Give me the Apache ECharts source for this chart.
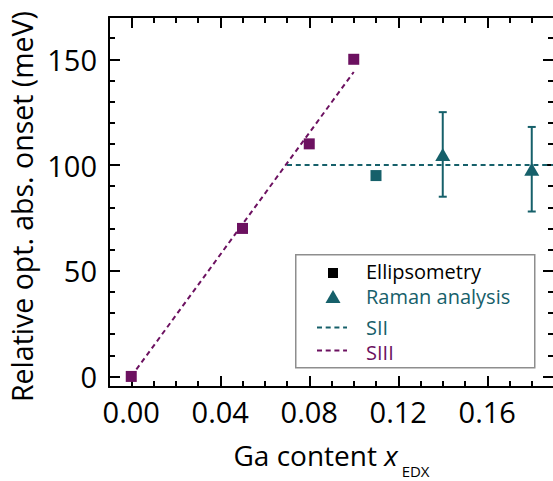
<!DOCTYPE html>
<html>
<head>
<meta charset="utf-8">
<script src="https://cdn.jsdelivr.net/npm/echarts@6/dist/echarts.min.js"></script>
<style>
  html, body { margin: 0; padding: 0; background: #fff; }
  #chart { width: 553px; height: 481px; }
</style>
</head>
<body>
<div id="chart"></div>
<script>
// Sample series SIII (ellipsometry)
const siiiGa = [0.00, 0.05, 0.08, 0.10];
const siiiOnset = [0, 70, 110, 150];
// Sample series SII (ellipsometry)
const siiGa = [0.11];
const siiOnset = [95];
// Sample series SII (Raman analysis) with symmetric uncertainty
const ramanGa = [0.14, 0.18];
const ramanOnset = [105, 98];
const ramanErr = [20, 20];
// Guide lines
const siiiFitGa = [0.00, 0.10];
const siiiFitOnset = [0, 144];
const siiFitGa = [0.07, 0.19];
const siiFitOnset = [100, 100];
// Axis ticks
const xMajorTicks = [0.00, 0.04, 0.08, 0.12, 0.16];
const xMinorTicks = [-0.01, 0.00, 0.01, 0.02, 0.03, 0.04, 0.05, 0.06, 0.07, 0.08, 0.09,
                     0.10, 0.11, 0.12, 0.13, 0.14, 0.15, 0.16, 0.17, 0.18, 0.19];
const yMajorTicks = [0, 50, 100, 150];
const yMinorTicks = [0, 10, 20, 30, 40, 50, 60, 70, 80, 90, 100, 110, 120, 130, 140, 150, 160, 170];

const PURPLE = '#6c1160';
const TEAL = '#16606a';
const FONT = '"Open Sans", "Noto Sans", sans-serif';

const X_MIN = -0.01, X_MAX = 0.19;
const Y_MIN = -5, Y_MAX = 170;

function xAxisDef(position, ticks, len, withLabels) {
  return {
    type: 'value', min: X_MIN, max: X_MAX, position: position,
    axisLine: { show: withLabels !== null, onZero: false, lineStyle: { color: '#000', width: 2 } },
    axisTick: { show: true, inside: true, length: len, customValues: ticks,
                lineStyle: { color: '#000', width: 2 } },
    axisLabel: withLabels ? {
      show: true, customValues: xMajorTicks, margin: 10,
      formatter: v => v.toFixed(2),
      fontFamily: FONT, fontSize: 29, color: '#000'
    } : { show: false },
    splitLine: { show: false }
  };
}
function yAxisDef(position, ticks, len, withLabels) {
  return {
    type: 'value', min: Y_MIN, max: Y_MAX, position: position,
    axisLine: { show: withLabels !== null, onZero: false, lineStyle: { color: '#000', width: 2 } },
    axisTick: { show: true, inside: true, length: len, customValues: ticks,
                lineStyle: { color: '#000', width: 2 } },
    axisLabel: withLabels ? {
      show: true, customValues: yMajorTicks, margin: 12,
      fontFamily: FONT, fontSize: 29, color: '#000'
    } : { show: false },
    splitLine: { show: false }
  };
}

const xAxes = [
  xAxisDef('bottom', xMajorTicks, 11, true),
  xAxisDef('bottom', xMinorTicks, 6, null),
  xAxisDef('top', xMajorTicks, 11, false),
  xAxisDef('top', xMinorTicks, 6, null)
];
Object.assign(xAxes[0], {
  name: '{a|Ga content }{i|x}{s|EDX}',
  nameLocation: 'middle',
  nameGap: 46,
  nameTextStyle: {
    fontFamily: FONT, color: '#000',
    rich: {
      a: { fontFamily: FONT, fontSize: 28, lineHeight: 32, color: '#000' },
      i: { fontFamily: FONT, fontSize: 28, lineHeight: 32, fontStyle: 'italic', color: '#000',
           padding: [0, 4, 0, 0] },
      s: { fontFamily: FONT, fontSize: 15, lineHeight: 15, padding: [33, 0, 0, 0], color: '#000' }
    }
  }
});

const yAxes = [
  yAxisDef('left', yMajorTicks, 11, true),
  yAxisDef('left', yMinorTicks, 6, null),
  yAxisDef('right', yMajorTicks, 11, false),
  yAxisDef('right', yMinorTicks, 6, null)
];
Object.assign(yAxes[0], {
  name: 'Relative opt. abs. onset (meV)',
  nameLocation: 'middle',
  nameGap: 69,
  nameTextStyle: { fontFamily: FONT, fontSize: 28.5, color: '#000', padding: [0, 9, 0, 0] }
});

const pairs = (xs, ys) => xs.map((x, i) => [x, ys[i]]);
const errData = ramanGa.map((x, i) => [x, ramanOnset[i] - ramanErr[i], ramanOnset[i] + ramanErr[i]]);

// Legend box drawn as graphic elements
const legendFont = '20px ' + FONT;
const legendGraphic = [
  { type: 'rect', left: 295, top: 254, shape: { width: 239, height: 113 },
    style: { fill: '#fff', stroke: '#8e8e8e', lineWidth: 1.5 }, z: 10 },
  { type: 'rect', shape: { x: 328, y: 268, width: 10, height: 10 }, style: { fill: '#000' }, z: 11 },
  { type: 'text', x: 366, y: 271.5, style: { text: 'Ellipsometry', fill: '#000', font: legendFont,
    lineHeight: 20, textVerticalAlign: 'middle' }, z: 11 },
  { type: 'polygon', shape: { points: [[333, 290], [325.5, 303], [340.5, 303]] }, style: { fill: TEAL }, z: 11 },
  { type: 'text', x: 366, y: 296.5, style: { text: 'Raman analysis', fill: TEAL, font: legendFont,
    lineHeight: 20, textVerticalAlign: 'middle' }, z: 11 },
  { type: 'line', shape: { x1: 317, y1: 327.5, x2: 347, y2: 327.5 },
    style: { stroke: TEAL, lineWidth: 2, lineDash: [5, 3.7] }, z: 11 },
  { type: 'text', x: 366, y: 327.5, style: { text: 'SII', fill: TEAL, font: legendFont,
    lineHeight: 20, textVerticalAlign: 'middle' }, z: 11 },
  { type: 'line', shape: { x1: 317, y1: 350.5, x2: 347, y2: 350.5 },
    style: { stroke: PURPLE, lineWidth: 2, lineDash: [5, 3.7] }, z: 11 },
  { type: 'text', x: 366, y: 352, style: { text: 'SIII', fill: PURPLE, font: legendFont,
    lineHeight: 20, textVerticalAlign: 'middle' }, z: 11 }
];

const chart = echarts.init(document.getElementById('chart'), null, { renderer: 'svg' });
chart.setOption({
  animation: false,
  backgroundColor: '#fff',
  grid: { left: 109, top: 17, width: 445, height: 370, outerBoundsMode: 'none' },
  xAxis: xAxes,
  yAxis: yAxes,
  graphic: legendGraphic,
  series: [
    {
      name: 'SIII guide', type: 'line', data: pairs(siiiFitGa, siiiFitOnset),
      showSymbol: false, symbol: 'none', z: 2,
      lineStyle: { color: PURPLE, width: 2, type: [5, 3.7] }
    },
    {
      name: 'SII guide', type: 'line', data: pairs(siiFitGa, siiFitOnset),
      showSymbol: false, symbol: 'none', z: 2,
      lineStyle: { color: TEAL, width: 2, type: [5, 3.8] }
    },
    {
      name: 'Raman error', type: 'custom', data: errData, z: 3,
      renderItem: function (params, api) {
        const x = api.value(0);
        const lo = api.coord([x, api.value(1)]);
        const hi = api.coord([x, api.value(2)]);
        const cap = 4;
        const st = { stroke: TEAL, lineWidth: 2 };
        return {
          type: 'group',
          children: [
            { type: 'line', shape: { x1: hi[0], y1: hi[1], x2: lo[0], y2: lo[1] }, style: st },
            { type: 'line', shape: { x1: hi[0] - cap, y1: hi[1], x2: hi[0] + cap, y2: hi[1] }, style: st },
            { type: 'line', shape: { x1: lo[0] - cap, y1: lo[1], x2: lo[0] + cap, y2: lo[1] }, style: st }
          ]
        };
      }
    },
    {
      name: 'SIII ellipsometry', type: 'scatter', data: pairs(siiiGa, siiiOnset),
      symbol: 'rect', symbolSize: 11, z: 4, itemStyle: { color: PURPLE, opacity: 1 }
    },
    {
      name: 'SII ellipsometry', type: 'scatter', data: pairs(siiGa, siiOnset),
      symbol: 'rect', symbolSize: 11, z: 4, itemStyle: { color: TEAL, opacity: 1 }
    },
    {
      name: 'Raman analysis', type: 'scatter', data: pairs(ramanGa, ramanOnset),
      symbol: 'triangle', symbolSize: [15, 13], z: 4, itemStyle: { color: TEAL, opacity: 1 }
    }
  ]
});
</script>
</body>
</html>
